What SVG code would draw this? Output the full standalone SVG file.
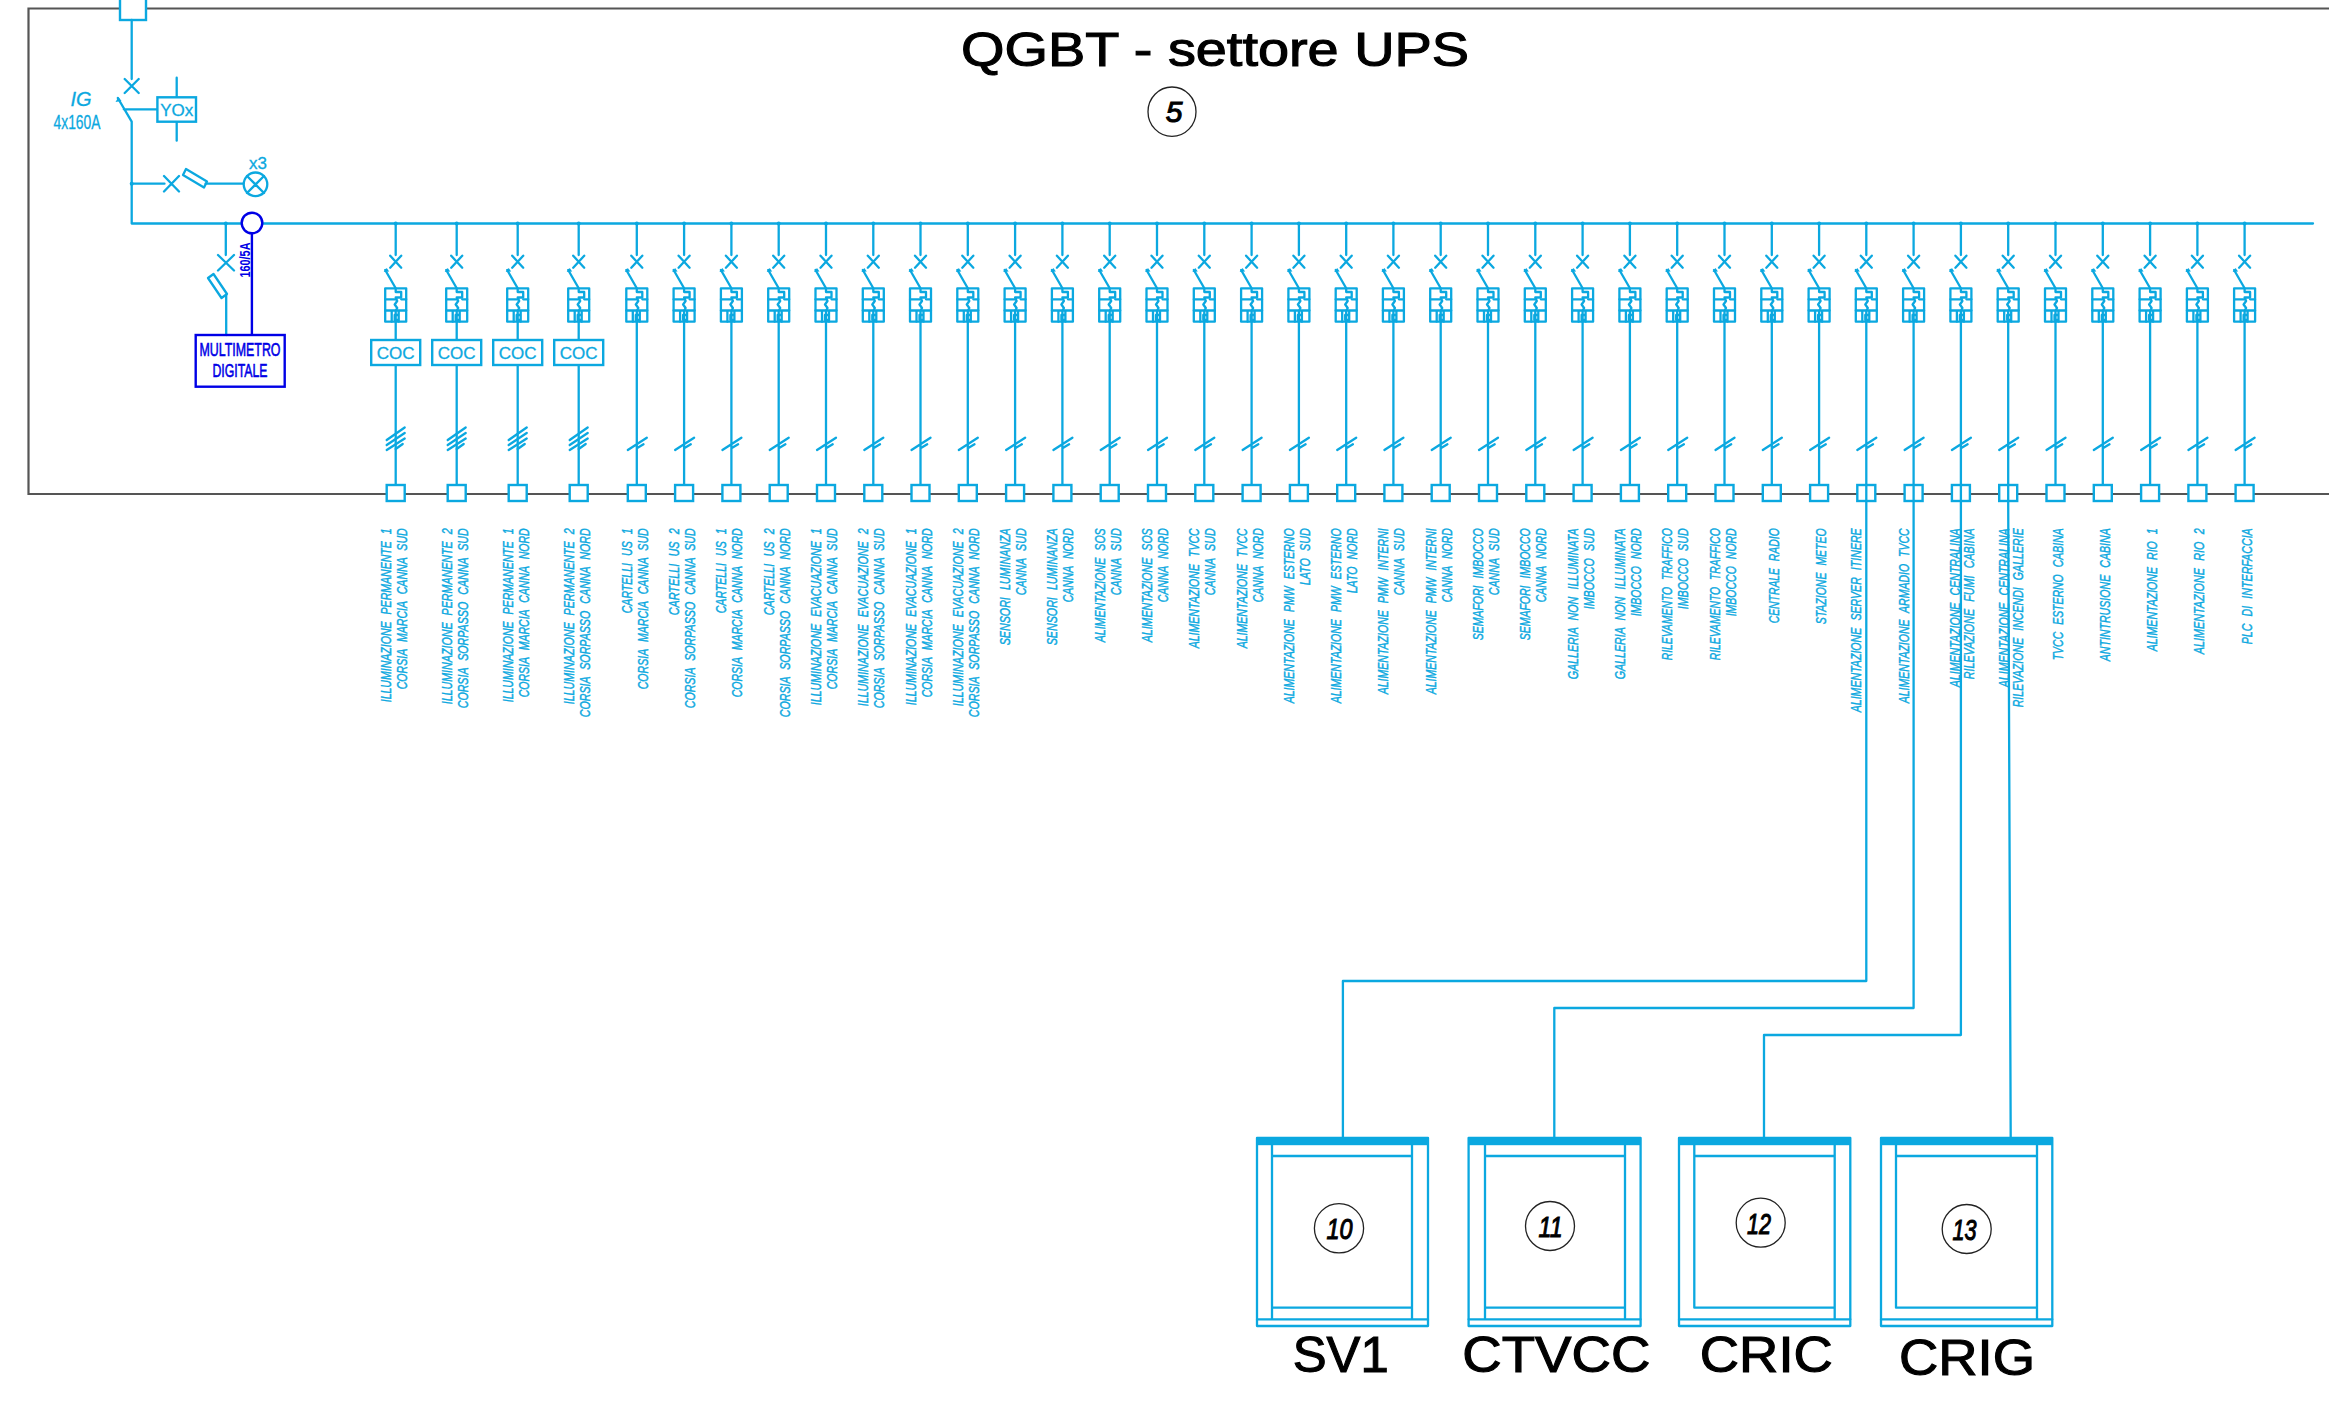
<svg xmlns="http://www.w3.org/2000/svg" width="2329" height="1406" viewBox="0 0 2329 1406">
<style>
.c{fill:none;stroke:#0ba8e0;stroke-width:2.3;stroke-linecap:round;stroke-linejoin:round}
.w{fill:#fff;stroke:#0ba8e0;stroke-width:2.4}
.f{fill:#0ba8e0}
.b{fill:none;stroke:#0000e6;stroke-width:2.4}
.k{fill:none;stroke:#222;stroke-width:1.3}
text{font-family:"Liberation Sans",Arial,sans-serif}
.t{font-size:15.500px;font-style:italic;fill:#0ba8e0;stroke:#0ba8e0;stroke-width:.45;text-anchor:end;word-spacing:6px}
.u{fill:#0ba8e0;stroke:#0ba8e0;stroke-width:.3;text-anchor:middle}
.n{font-size:30px;font-style:italic;fill:#000;text-anchor:middle;stroke:#000;stroke-width:1.1}
.h{font-size:50px;fill:#000;text-anchor:middle;stroke:#000;stroke-width:1.100}
.m{font-size:19px;fill:#0000e6;text-anchor:middle;stroke:#0000e6;stroke-width:.6}
</style>
<defs>
<g id="gear">
<path class="c" d="M0,224V255M-5.500,255.700L5.500,267.700M5.500,255.700L-5.500,267.700M-10.500,270L0,288.300V292H5.500V297.500H0L1.500,301L-1,304.500L1.500,308L0,311V321.700"/>
<circle class="f" cx="0" cy="223.500" r="2"/>
<path class="f" d="M-12,272l3,-4l2.500,3.500z"/>
<rect class="c" x="-10.500" y="288.300" width="21" height="33.400"/>
<path class="c" d="M-10.500,299.300H0M5.500,299.300H10.500M-10.500,310.500H10.500M-4,310.500V321.700M3,310.500V321.700M-1,315h4v5h-4z"/>
</g>
<g id="coc">
<use href="#gear"/>
<path class="c" d="M0,321.700V340M0,365V485"/>
<rect class="w" x="-24.500" y="340" width="49" height="25"/>
<text class="u" x="0" y="359" font-size="17">COC</text>
<path class="c" d="M-9,440L9,427.500M-9,445L9,433M-9,450L9,438.500M0,449L7,444"/>
<rect class="w" x="-9" y="485" width="18" height="16"/>
</g>
<g id="std">
<use href="#gear"/>
<path class="c" d="M0,321.700V485M-9,450L10,437.700M0,448.300L6.700,444.300"/>
<rect class="w" x="-9" y="485" width="18" height="16"/>
</g>
</defs>
<rect width="2329" height="1406" fill="#fff"/>
<g id="frame"><path d="M2329,8.500H28.500V494H2329" fill="none" stroke="#555" stroke-width="2.200"/></g>
<g id="title"><text x="1215" y="65.700" class="h" style="font-size:48px" textLength="508" lengthAdjust="spacingAndGlyphs">QGBT - settore UPS</text>
<ellipse class="k" cx="1172" cy="111.700" rx="24" ry="24.700"/><text class="n" x="1174" y="122">5</text></g>
<g id="main-breaker">
<rect class="w" x="120" y="-5" width="26" height="25"/>
<path class="c" d="M131.700,20V79M124.700,79L138.700,93M138.700,79L124.700,93M117.800,98L131.700,121.700V223.500H2313M123.800,109.300H157.400M176.700,77.700V97.300M176.700,121.700V140.700"/>
<path class="f" d="M115.500,102l3,-5l3,4z"/>
<rect class="w" x="157.400" y="97.300" width="38.600" height="24.400"/>
<text class="u" x="176.700" y="115.500" font-size="17">YOx</text>
<text x="81" y="106" font-size="20" font-style="italic" class="u">IG</text>
<text x="77" y="128.500" font-size="20" class="u" textLength="47" lengthAdjust="spacingAndGlyphs">4x160A</text>
</g>
<g id="lamp">
<circle class="f" cx="131.700" cy="183.700" r="2"/>
<path class="c" d="M131.700,183.700H164.500M164,176L179,191.500M179,176L164,191.500M205.600,183.700H243.500M247,176L264,193M264,176L247,193"/>
<path class="c" d="M186,169l21,12.500l-3,6l-21,-12.500z"/>
<circle class="c" cx="255.500" cy="184.300" r="11.800"/>
<text class="u" x="258" y="169" font-size="17">x3</text>
</g>
<g id="multimetro">
<circle class="f" cx="225.800" cy="223.500" r="2"/>
<path class="c" d="M225.800,224V255M218,255L234,270.500M234,255L218,270.500M226.200,295V335"/>
<path class="c" d="M213.500,274l-5.500,4l13.500,20l5.500,-4z"/>
<circle class="b" style="fill:#fff" cx="252" cy="223" r="10.300"/>
<path class="b" d="M251.900,233.500V335"/>
<rect class="b" x="195.700" y="335" width="89" height="51.700"/>
<text class="m" x="240" y="355.500" textLength="81" lengthAdjust="spacingAndGlyphs">MULTIMETRO</text>
<text class="m" x="240" y="377" textLength="55" lengthAdjust="spacingAndGlyphs">DIGITALE</text>
<text transform="translate(250,260) rotate(-90)" text-anchor="middle" font-size="15" font-weight="bold" fill="#0000e6" textLength="35" lengthAdjust="spacingAndGlyphs">160/5A</text>
</g>
<g id="feeder-1" transform="translate(395.700,0)"><use href="#coc"/><text class="t" transform="translate(-5,528.300) rotate(-90)" textLength="174" lengthAdjust="spacingAndGlyphs">ILLUMINAZIONE PERMANENTE 1</text><text class="t" transform="translate(11,528.300) rotate(-90)" textLength="161" lengthAdjust="spacingAndGlyphs">CORSIA MARCIA CANNA SUD</text></g>
<g id="feeder-2" transform="translate(456.700,0)"><use href="#coc"/><text class="t" transform="translate(-5,528.300) rotate(-90)" textLength="176" lengthAdjust="spacingAndGlyphs">ILLUMINAZIONE PERMANENTE 2</text><text class="t" transform="translate(11,528.300) rotate(-90)" textLength="180" lengthAdjust="spacingAndGlyphs">CORSIA SORPASSO CANNA SUD</text></g>
<g id="feeder-3" transform="translate(517.700,0)"><use href="#coc"/><text class="t" transform="translate(-5,528.300) rotate(-90)" textLength="174" lengthAdjust="spacingAndGlyphs">ILLUMINAZIONE PERMANENTE 1</text><text class="t" transform="translate(11,528.300) rotate(-90)" textLength="169" lengthAdjust="spacingAndGlyphs">CORSIA MARCIA CANNA NORD</text></g>
<g id="feeder-4" transform="translate(578.700,0)"><use href="#coc"/><text class="t" transform="translate(-5,528.300) rotate(-90)" textLength="176" lengthAdjust="spacingAndGlyphs">ILLUMINAZIONE PERMANENTE 2</text><text class="t" transform="translate(11,528.300) rotate(-90)" textLength="189" lengthAdjust="spacingAndGlyphs">CORSIA SORPASSO CANNA NORD</text></g>
<g id="feeder-5" transform="translate(636.800,0)"><use href="#std"/><text class="t" transform="translate(-5,528.300) rotate(-90)" textLength="85" lengthAdjust="spacingAndGlyphs">CARTELLI US 1</text><text class="t" transform="translate(11,528.300) rotate(-90)" textLength="161" lengthAdjust="spacingAndGlyphs">CORSIA MARCIA CANNA SUD</text></g>
<g id="feeder-6" transform="translate(684.100,0)"><use href="#std"/><text class="t" transform="translate(-5,528.300) rotate(-90)" textLength="87" lengthAdjust="spacingAndGlyphs">CARTELLI US 2</text><text class="t" transform="translate(11,528.300) rotate(-90)" textLength="180" lengthAdjust="spacingAndGlyphs">CORSIA SORPASSO CANNA SUD</text></g>
<g id="feeder-7" transform="translate(731.400,0)"><use href="#std"/><text class="t" transform="translate(-5,528.300) rotate(-90)" textLength="85" lengthAdjust="spacingAndGlyphs">CARTELLI US 1</text><text class="t" transform="translate(11,528.300) rotate(-90)" textLength="169" lengthAdjust="spacingAndGlyphs">CORSIA MARCIA CANNA NORD</text></g>
<g id="feeder-8" transform="translate(778.700,0)"><use href="#std"/><text class="t" transform="translate(-5,528.300) rotate(-90)" textLength="87" lengthAdjust="spacingAndGlyphs">CARTELLI US 2</text><text class="t" transform="translate(11,528.300) rotate(-90)" textLength="189" lengthAdjust="spacingAndGlyphs">CORSIA SORPASSO CANNA NORD</text></g>
<g id="feeder-9" transform="translate(826,0)"><use href="#std"/><text class="t" transform="translate(-5,528.300) rotate(-90)" textLength="177" lengthAdjust="spacingAndGlyphs">ILLUMINAZIONE EVACUAZIONE 1</text><text class="t" transform="translate(11,528.300) rotate(-90)" textLength="161" lengthAdjust="spacingAndGlyphs">CORSIA MARCIA CANNA SUD</text></g>
<g id="feeder-10" transform="translate(873.300,0)"><use href="#std"/><text class="t" transform="translate(-5,528.300) rotate(-90)" textLength="178" lengthAdjust="spacingAndGlyphs">ILLUMINAZIONE EVACUAZIONE 2</text><text class="t" transform="translate(11,528.300) rotate(-90)" textLength="180" lengthAdjust="spacingAndGlyphs">CORSIA SORPASSO CANNA SUD</text></g>
<g id="feeder-11" transform="translate(920.500,0)"><use href="#std"/><text class="t" transform="translate(-5,528.300) rotate(-90)" textLength="177" lengthAdjust="spacingAndGlyphs">ILLUMINAZIONE EVACUAZIONE 1</text><text class="t" transform="translate(11,528.300) rotate(-90)" textLength="169" lengthAdjust="spacingAndGlyphs">CORSIA MARCIA CANNA NORD</text></g>
<g id="feeder-12" transform="translate(967.800,0)"><use href="#std"/><text class="t" transform="translate(-5,528.300) rotate(-90)" textLength="178" lengthAdjust="spacingAndGlyphs">ILLUMINAZIONE EVACUAZIONE 2</text><text class="t" transform="translate(11,528.300) rotate(-90)" textLength="189" lengthAdjust="spacingAndGlyphs">CORSIA SORPASSO CANNA NORD</text></g>
<g id="feeder-13" transform="translate(1015.100,0)"><use href="#std"/><text class="t" transform="translate(-5,528.300) rotate(-90)" textLength="117" lengthAdjust="spacingAndGlyphs">SENSORI LUMINANZA</text><text class="t" transform="translate(11,528.300) rotate(-90)" textLength="67" lengthAdjust="spacingAndGlyphs">CANNA SUD</text></g>
<g id="feeder-14" transform="translate(1062.400,0)"><use href="#std"/><text class="t" transform="translate(-5,528.300) rotate(-90)" textLength="117" lengthAdjust="spacingAndGlyphs">SENSORI LUMINANZA</text><text class="t" transform="translate(11,528.300) rotate(-90)" textLength="74" lengthAdjust="spacingAndGlyphs">CANNA NORD</text></g>
<g id="feeder-15" transform="translate(1109.700,0)"><use href="#std"/><text class="t" transform="translate(-5,528.300) rotate(-90)" textLength="114" lengthAdjust="spacingAndGlyphs">ALIMENTAZIONE SOS</text><text class="t" transform="translate(11,528.300) rotate(-90)" textLength="67" lengthAdjust="spacingAndGlyphs">CANNA SUD</text></g>
<g id="feeder-16" transform="translate(1157,0)"><use href="#std"/><text class="t" transform="translate(-5,528.300) rotate(-90)" textLength="114" lengthAdjust="spacingAndGlyphs">ALIMENTAZIONE SOS</text><text class="t" transform="translate(11,528.300) rotate(-90)" textLength="74" lengthAdjust="spacingAndGlyphs">CANNA NORD</text></g>
<g id="feeder-17" transform="translate(1204.300,0)"><use href="#std"/><text class="t" transform="translate(-5,528.300) rotate(-90)" textLength="120" lengthAdjust="spacingAndGlyphs">ALIMENTAZIONE TVCC</text><text class="t" transform="translate(11,528.300) rotate(-90)" textLength="67" lengthAdjust="spacingAndGlyphs">CANNA SUD</text></g>
<g id="feeder-18" transform="translate(1251.600,0)"><use href="#std"/><text class="t" transform="translate(-5,528.300) rotate(-90)" textLength="120" lengthAdjust="spacingAndGlyphs">ALIMENTAZIONE TVCC</text><text class="t" transform="translate(11,528.300) rotate(-90)" textLength="74" lengthAdjust="spacingAndGlyphs">CANNA NORD</text></g>
<g id="feeder-19" transform="translate(1298.900,0)"><use href="#std"/><text class="t" transform="translate(-5,528.300) rotate(-90)" textLength="175" lengthAdjust="spacingAndGlyphs">ALIMENTAZIONE PMW ESTERNO</text><text class="t" transform="translate(11,528.300) rotate(-90)" textLength="57" lengthAdjust="spacingAndGlyphs">LATO SUD</text></g>
<g id="feeder-20" transform="translate(1346.200,0)"><use href="#std"/><text class="t" transform="translate(-5,528.300) rotate(-90)" textLength="175" lengthAdjust="spacingAndGlyphs">ALIMENTAZIONE PMW ESTERNO</text><text class="t" transform="translate(11,528.300) rotate(-90)" textLength="65" lengthAdjust="spacingAndGlyphs">LATO NORD</text></g>
<g id="feeder-21" transform="translate(1393.400,0)"><use href="#std"/><text class="t" transform="translate(-5,528.300) rotate(-90)" textLength="166" lengthAdjust="spacingAndGlyphs">ALIMENTAZIONE PMW INTERNI</text><text class="t" transform="translate(11,528.300) rotate(-90)" textLength="67" lengthAdjust="spacingAndGlyphs">CANNA SUD</text></g>
<g id="feeder-22" transform="translate(1440.700,0)"><use href="#std"/><text class="t" transform="translate(-5,528.300) rotate(-90)" textLength="166" lengthAdjust="spacingAndGlyphs">ALIMENTAZIONE PMW INTERNI</text><text class="t" transform="translate(11,528.300) rotate(-90)" textLength="74" lengthAdjust="spacingAndGlyphs">CANNA NORD</text></g>
<g id="feeder-23" transform="translate(1488,0)"><use href="#std"/><text class="t" transform="translate(-5,528.300) rotate(-90)" textLength="112" lengthAdjust="spacingAndGlyphs">SEMAFORI IMBOCCO</text><text class="t" transform="translate(11,528.300) rotate(-90)" textLength="67" lengthAdjust="spacingAndGlyphs">CANNA SUD</text></g>
<g id="feeder-24" transform="translate(1535.300,0)"><use href="#std"/><text class="t" transform="translate(-5,528.300) rotate(-90)" textLength="112" lengthAdjust="spacingAndGlyphs">SEMAFORI IMBOCCO</text><text class="t" transform="translate(11,528.300) rotate(-90)" textLength="74" lengthAdjust="spacingAndGlyphs">CANNA NORD</text></g>
<g id="feeder-25" transform="translate(1582.600,0)"><use href="#std"/><text class="t" transform="translate(-5,528.300) rotate(-90)" textLength="151" lengthAdjust="spacingAndGlyphs">GALLERIA NON ILLUMINATA</text><text class="t" transform="translate(11,528.300) rotate(-90)" textLength="81" lengthAdjust="spacingAndGlyphs">IMBOCCO SUD</text></g>
<g id="feeder-26" transform="translate(1629.900,0)"><use href="#std"/><text class="t" transform="translate(-5,528.300) rotate(-90)" textLength="151" lengthAdjust="spacingAndGlyphs">GALLERIA NON ILLUMINATA</text><text class="t" transform="translate(11,528.300) rotate(-90)" textLength="88" lengthAdjust="spacingAndGlyphs">IMBOCCO NORD</text></g>
<g id="feeder-27" transform="translate(1677.200,0)"><use href="#std"/><text class="t" transform="translate(-5,528.300) rotate(-90)" textLength="132" lengthAdjust="spacingAndGlyphs">RILEVAMENTO TRAFFICO</text><text class="t" transform="translate(11,528.300) rotate(-90)" textLength="81" lengthAdjust="spacingAndGlyphs">IMBOCCO SUD</text></g>
<g id="feeder-28" transform="translate(1724.500,0)"><use href="#std"/><text class="t" transform="translate(-5,528.300) rotate(-90)" textLength="132" lengthAdjust="spacingAndGlyphs">RILEVAMENTO TRAFFICO</text><text class="t" transform="translate(11,528.300) rotate(-90)" textLength="88" lengthAdjust="spacingAndGlyphs">IMBOCCO NORD</text></g>
<g id="feeder-29" transform="translate(1771.800,0)"><use href="#std"/><text class="t" transform="translate(7,528.300) rotate(-90)" textLength="95" lengthAdjust="spacingAndGlyphs">CENTRALE RADIO</text></g>
<g id="feeder-30" transform="translate(1819.100,0)"><use href="#std"/><text class="t" transform="translate(6.500,528.300) rotate(-90)" textLength="96" lengthAdjust="spacingAndGlyphs">STAZIONE METEO</text></g>
<g id="feeder-31" transform="translate(1866.300,0)"><use href="#std"/><text class="t" transform="translate(-5,528.300) rotate(-90)" textLength="184" lengthAdjust="spacingAndGlyphs">ALIMENTAZIONE SERVER ITINERE</text></g>
<g id="feeder-32" transform="translate(1913.600,0)"><use href="#std"/><text class="t" transform="translate(-5,528.300) rotate(-90)" textLength="175" lengthAdjust="spacingAndGlyphs">ALIMENTAZIONE ARMADIO TVCC</text></g>
<g id="feeder-33" transform="translate(1960.900,0)"><use href="#std"/><text class="t" transform="translate(-0.600,528.300) rotate(-90)" textLength="159" lengthAdjust="spacingAndGlyphs">ALIMENTAZIONE CENTRALINA</text><text class="t" transform="translate(13.400,528.300) rotate(-90)" textLength="151" lengthAdjust="spacingAndGlyphs">RILEVAZIONE FUMI CABINA</text></g>
<g id="feeder-34" transform="translate(2008.200,0)"><use href="#std"/><text class="t" transform="translate(0.400,528.300) rotate(-90)" textLength="159" lengthAdjust="spacingAndGlyphs">ALIMENTAZIONE CENTRALINA</text><text class="t" transform="translate(15,528.300) rotate(-90)" textLength="179" lengthAdjust="spacingAndGlyphs">RILEVAZIONE INCENDI GALLERIE</text></g>
<g id="feeder-35" transform="translate(2055.500,0)"><use href="#std"/><text class="t" transform="translate(7,528.300) rotate(-90)" textLength="132" lengthAdjust="spacingAndGlyphs">TVCC ESTERNO CABINA</text></g>
<g id="feeder-36" transform="translate(2102.800,0)"><use href="#std"/><text class="t" transform="translate(7,528.300) rotate(-90)" textLength="133" lengthAdjust="spacingAndGlyphs">ANTINTRUSIONE CABINA</text></g>
<g id="feeder-37" transform="translate(2150.100,0)"><use href="#std"/><text class="t" transform="translate(7,528.300) rotate(-90)" textLength="123" lengthAdjust="spacingAndGlyphs">ALIMENTAZIONE RIO 1</text></g>
<g id="feeder-38" transform="translate(2197.400,0)"><use href="#std"/><text class="t" transform="translate(7,528.300) rotate(-90)" textLength="126" lengthAdjust="spacingAndGlyphs">ALIMENTAZIONE RIO 2</text></g>
<g id="feeder-39" transform="translate(2244.600,0)"><use href="#std"/><text class="t" transform="translate(7,528.300) rotate(-90)" textLength="116" lengthAdjust="spacingAndGlyphs">PLC DI INTERFACCIA</text></g>
<g id="connectors">
<path class="c" d="M1866.300,485V981H1342.900V1138"/>
<path class="c" d="M1913.600,485V1008H1554.300V1138"/>
<path class="c" d="M1960.900,485V1035H1764V1138"/>
<path class="c" d="M2008.200,485V501L2010.700,1138"/>
</g>
<g id="panel-SV1">
<rect class="c" x="1257" y="1138" width="171" height="188"/><rect class="f" x="1257" y="1137.700" width="171" height="7.500"/>
<path class="c" d="M1257,1319.300H1428M1272,1145V1319.300M1412,1145V1319.300M1272,1156H1412M1272,1307.700H1412"/>
<circle class="k" cx="1339" cy="1228.300" r="24.600"/><text class="n" x="1339.500" y="1239" textLength="26" lengthAdjust="spacingAndGlyphs">10</text>
<text class="h" x="1340.700" y="1372" textLength="96" lengthAdjust="spacingAndGlyphs">SV1</text>
</g>
<g id="panel-CTVCC">
<rect class="c" x="1468.600" y="1138" width="172" height="188"/><rect class="f" x="1468.600" y="1137.700" width="172" height="7.500"/>
<path class="c" d="M1468.600,1319.300H1640.600M1485,1145V1319.300M1625,1145V1319.300M1485,1156H1625M1485,1307.700H1625"/>
<circle class="k" cx="1550" cy="1226" r="24.500"/><text class="n" x="1550.500" y="1237" textLength="24" lengthAdjust="spacingAndGlyphs">11</text>
<text class="h" x="1556.300" y="1372" textLength="188" lengthAdjust="spacingAndGlyphs">CTVCC</text>
</g>
<g id="panel-CRIC">
<rect class="c" x="1679" y="1138" width="171.300" height="188"/><rect class="f" x="1679" y="1137.700" width="171.300" height="7.500"/>
<path class="c" d="M1679,1319.300H1850.300M1694.300,1145V1307.700H1834.700M1834.700,1145V1319.300M1694.300,1156H1834.700"/>
<circle class="k" cx="1760.700" cy="1222.700" r="24.500"/><text class="n" x="1759" y="1233.500" textLength="24" lengthAdjust="spacingAndGlyphs">12</text>
<text class="h" x="1766.300" y="1372" textLength="133" lengthAdjust="spacingAndGlyphs">CRIC</text>
</g>
<g id="panel-CRIG">
<rect class="c" x="1881" y="1138" width="171.300" height="188"/><rect class="f" x="1881" y="1137.700" width="171.300" height="7.500"/>
<path class="c" d="M1881,1319.300H2052.300M1896,1145V1307.700H2037M2037,1145V1319.300M1896,1156H2037"/>
<circle class="k" cx="1966.700" cy="1229" r="24.500"/><text class="n" x="1964.500" y="1239.500" textLength="24" lengthAdjust="spacingAndGlyphs">13</text>
<text class="h" x="1967" y="1375" textLength="136" lengthAdjust="spacingAndGlyphs">CRIG</text>
</g>
</svg>
